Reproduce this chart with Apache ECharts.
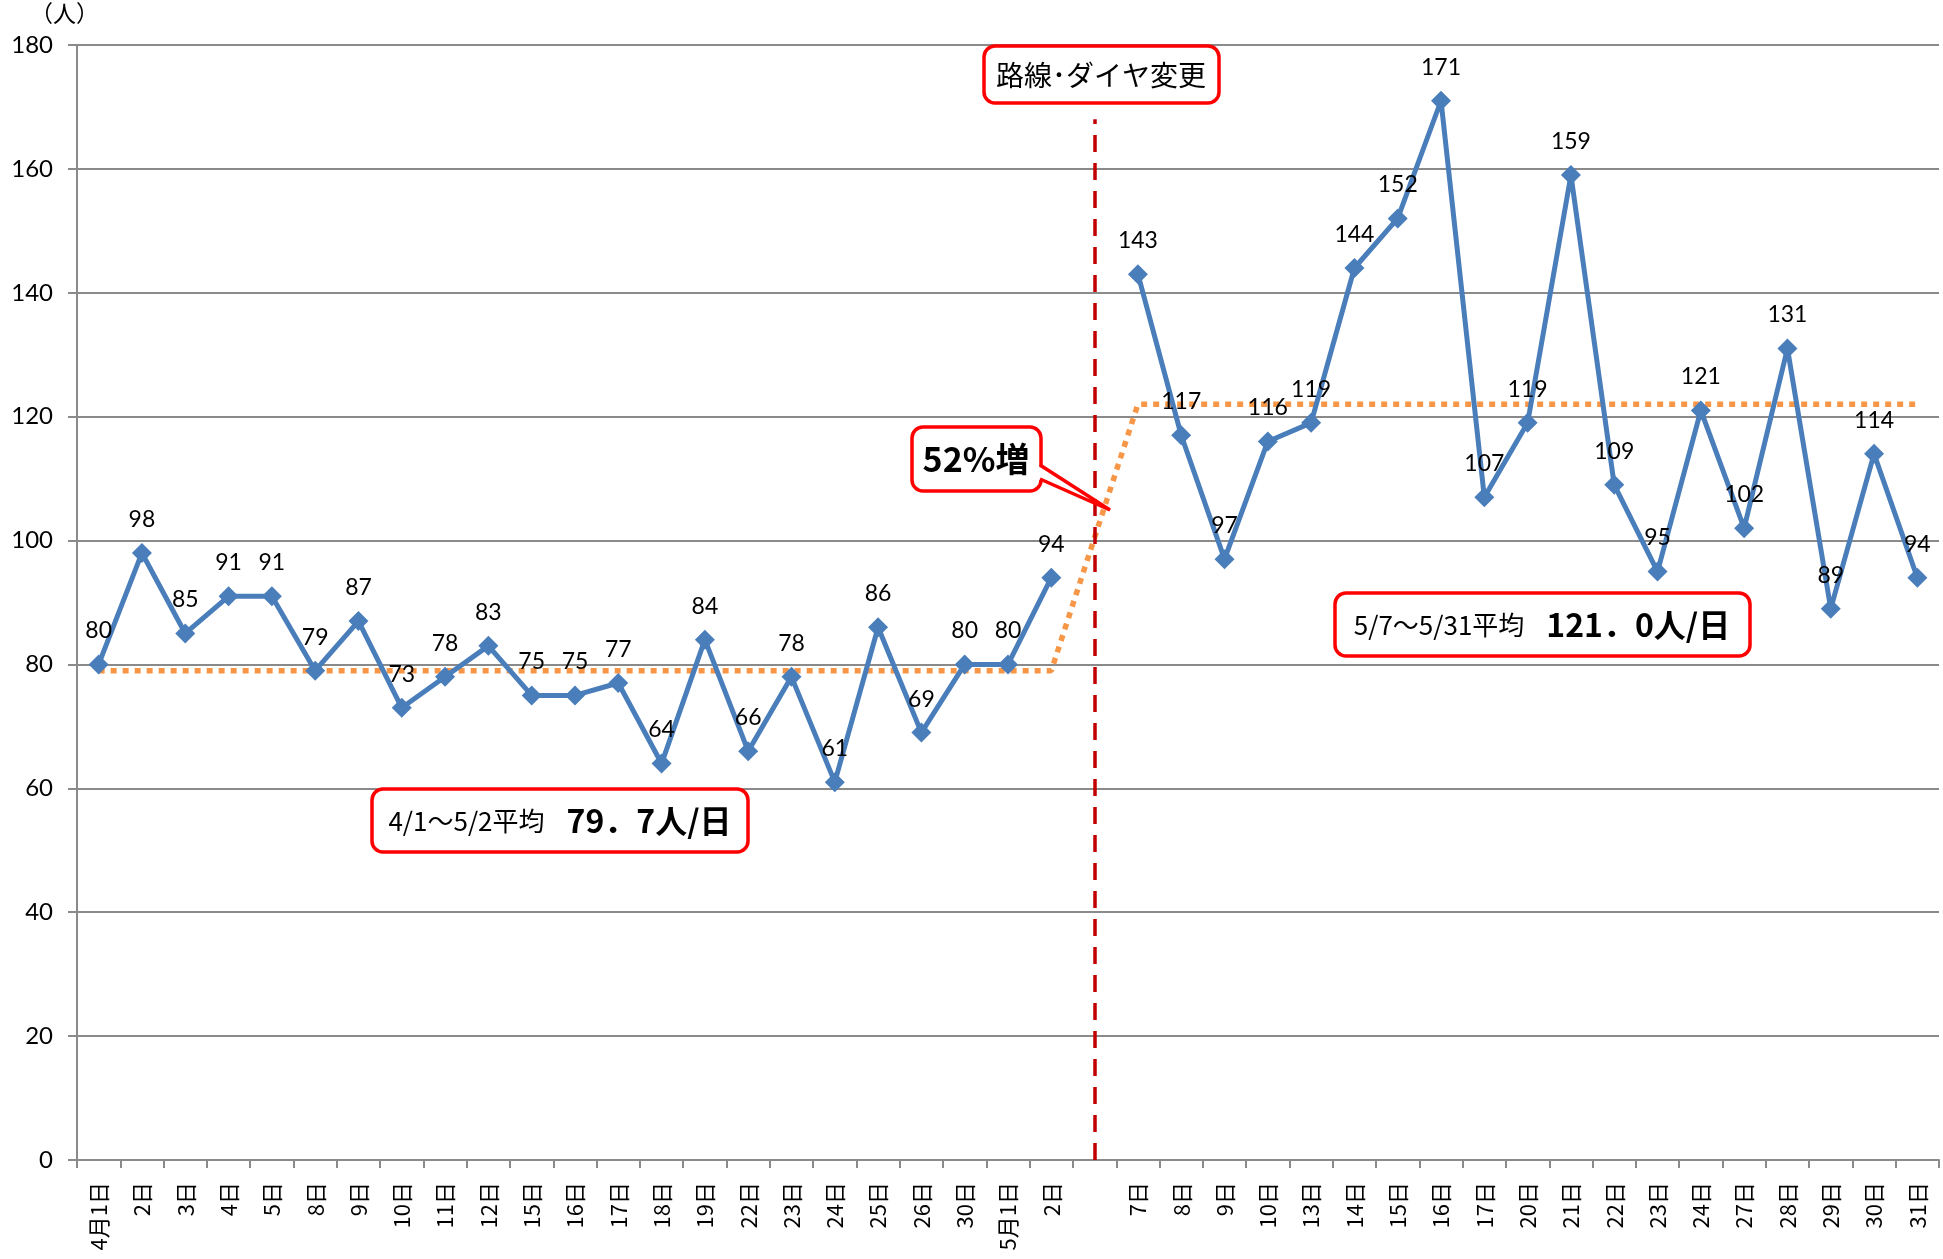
<!DOCTYPE html>
<html lang="ja">
<head>
	<meta charset="UTF-8">
	<title>利用者数の推移</title>
	<script src="https://cdn.jsdelivr.net/npm/echarts@6/dist/echarts.min.js"></script>
	<style>
		html, body { margin: 0; padding: 0; background: #fff; }
		#main { width: 1943px; height: 1259px; }
	</style>
</head>
<body>
	<div id="main"></div>
	<script>
		// 日付（空欄は路線・ダイヤ変更の区切り）
		var days = ['4月1日', '2日', '3日', '4日', '5日', '8日', '9日', '10日', '11日', '12日',
			'15日', '16日', '17日', '18日', '19日', '22日', '23日', '24日', '25日', '26日',
			'30日', '5月1日', '2日', '',
			'7日', '8日', '9日', '10日', '13日', '14日', '15日', '16日', '17日', '20日',
			'21日', '22日', '23日', '24日', '27日', '28日', '29日', '30日', '31日'];
		// 変更前（4/1～5/2）
		var before = [80, 98, 85, 91, 91, 79, 87, 73, 78, 83, 75, 75, 77, 64, 84, 66, 78, 61, 86, 69, 80, 80, 94];
		// 変更後（5/7～5/31）
		var after = [143, 117, 97, 116, 119, 144, 152, 171, 107, 119, 159, 109, 95, 121, 102, 131, 89, 114, 94];
		// 平均線（図から読んだ高さ）
		var avgBefore = 79;
		var avgAfter = 122;
		var yTicks = { min: 0, max: 180, interval: 20 };

		var users = before.concat([null], after);
		var avg = before.map(function () { return avgBefore; })
			.concat([null], after.map(function () { return avgAfter; }));
		var changeIdx = before.length;

		var gray = '#8a8a8a';
		var numFont = 'Lato, "Noto Sans CJK JP", sans-serif';
		var jpFont = '"Noto Sans CJK JP", sans-serif';

		function box(x, y, w, h) {
			return {
				type: 'rect', z: 10,
				shape: { x: x, y: y, width: w, height: h, r: 11 },
				style: { fill: '#fff', stroke: '#ff0000', lineWidth: 3.5 }
			};
		}

		var myChart = echarts.init(document.getElementById('main'));
		myChart.setOption({
			animation: false,
			grid: { left: 77, right: 4, top: 45, bottom: 99 },
			xAxis: {
				type: 'category',
				data: days,
				boundaryGap: true,
				axisLine: { lineStyle: { color: gray, width: 2 } },
				axisTick: { show: true, interval: 0, length: 8, lineStyle: { color: gray, width: 2 } },
				axisLabel: {
					interval: 0, rotate: 90, margin: 22,
					fontSize: 22, color: '#000', fontFamily: jpFont
				}
			},
			yAxis: {
				type: 'value',
				min: yTicks.min, max: yTicks.max, interval: yTicks.interval,
				axisLine: { show: true, lineStyle: { color: gray, width: 2 } },
				axisTick: { show: true, length: 9, lineStyle: { color: gray, width: 2 } },
				splitLine: { lineStyle: { color: gray, width: 2 } },
				axisLabel: { fontSize: 24, color: '#000', fontFamily: numFont, margin: 24 }
			},
			series: [
				{
					name: '平均',
					type: 'line',
					data: avg,
					connectNulls: true,
					symbol: 'none',
					silent: true,
					z: 1,
					lineStyle: { color: '#f79646', width: 5.5, type: [6, 6], cap: 'butt' }
				},
				{
					name: '利用者数',
					type: 'line',
					data: users,
					connectNulls: false,
					symbol: 'diamond',
					symbolSize: 20,
					z: 3,
					itemStyle: { color: '#4a7ebb' },
					lineStyle: { color: '#4a7ebb', width: 5 },
					label: {
						show: true, position: 'top', distance: 12,
						fontSize: 23, color: '#000', fontFamily: numFont
					},
					markLine: {
						silent: true,
						symbol: 'none',
						label: { show: false },
						lineStyle: { color: '#c00000', width: 3.5, type: [17, 11] },
						data: [[{ coord: [changeIdx, 0] }, { coord: [changeIdx, 168] }]]
					}
				}
			],
			graphic: [
				{
					type: 'text', left: 30, top: 2,
					style: { text: '（人）', font: '23px ' + jpFont, fill: '#000' }
				},
				// 路線・ダイヤ変更
				box(984, 46, 235, 57),
				{
					type: 'text', z: 11, x: 1101, y: 75,
					style: { text: '路線･ダイヤ変更', font: '28px ' + jpFont, fill: '#000', align: 'center', verticalAlign: 'middle' }
				},
				// 52%増 吹き出し
				box(912, 427, 129, 64),
				{
					type: 'polygon', z: 11,
					shape: { points: [[1037, 465], [1110, 510], [1037, 479]] },
					style: { fill: '#fff' }
				},
				{
					type: 'polyline', z: 12,
					shape: { points: [[1040, 465], [1110, 510], [1040, 479]] },
					style: { stroke: '#ff0000', lineWidth: 3.5, fill: null }
				},
				{
					type: 'text', z: 12, x: 976, y: 459,
					style: { text: '52%増', font: 'bold 34px ' + jpFont, fill: '#000', align: 'center', verticalAlign: 'middle' }
				},
				// 平均ラベル
				box(372, 789, 376, 63),
				{
					type: 'text', z: 11, x: 560, y: 821,
					style: {
						text: '{a|4/1～5/2平均}{s| }{b|79．7人/日}',
						align: 'center', verticalAlign: 'middle',
						rich: {
							a: { fontSize: 26, fontFamily: jpFont, fill: '#000' },
							s: { fontSize: 26, width: 22 },
							b: { fontSize: 32, fontWeight: 'bold', fontFamily: jpFont, fill: '#000' }
						}
					}
				},
				box(1335, 593, 415, 63),
				{
					type: 'text', z: 11, x: 1542, y: 625,
					style: {
						text: '{a|5/7～5/31平均}{s| }{b|121．0人/日}',
						align: 'center', verticalAlign: 'middle',
						rich: {
							a: { fontSize: 26, fontFamily: jpFont, fill: '#000' },
							s: { fontSize: 26, width: 22 },
							b: { fontSize: 32, fontWeight: 'bold', fontFamily: jpFont, fill: '#000' }
						}
					}
				}
			]
		});
	</script>
</body>
</html>
